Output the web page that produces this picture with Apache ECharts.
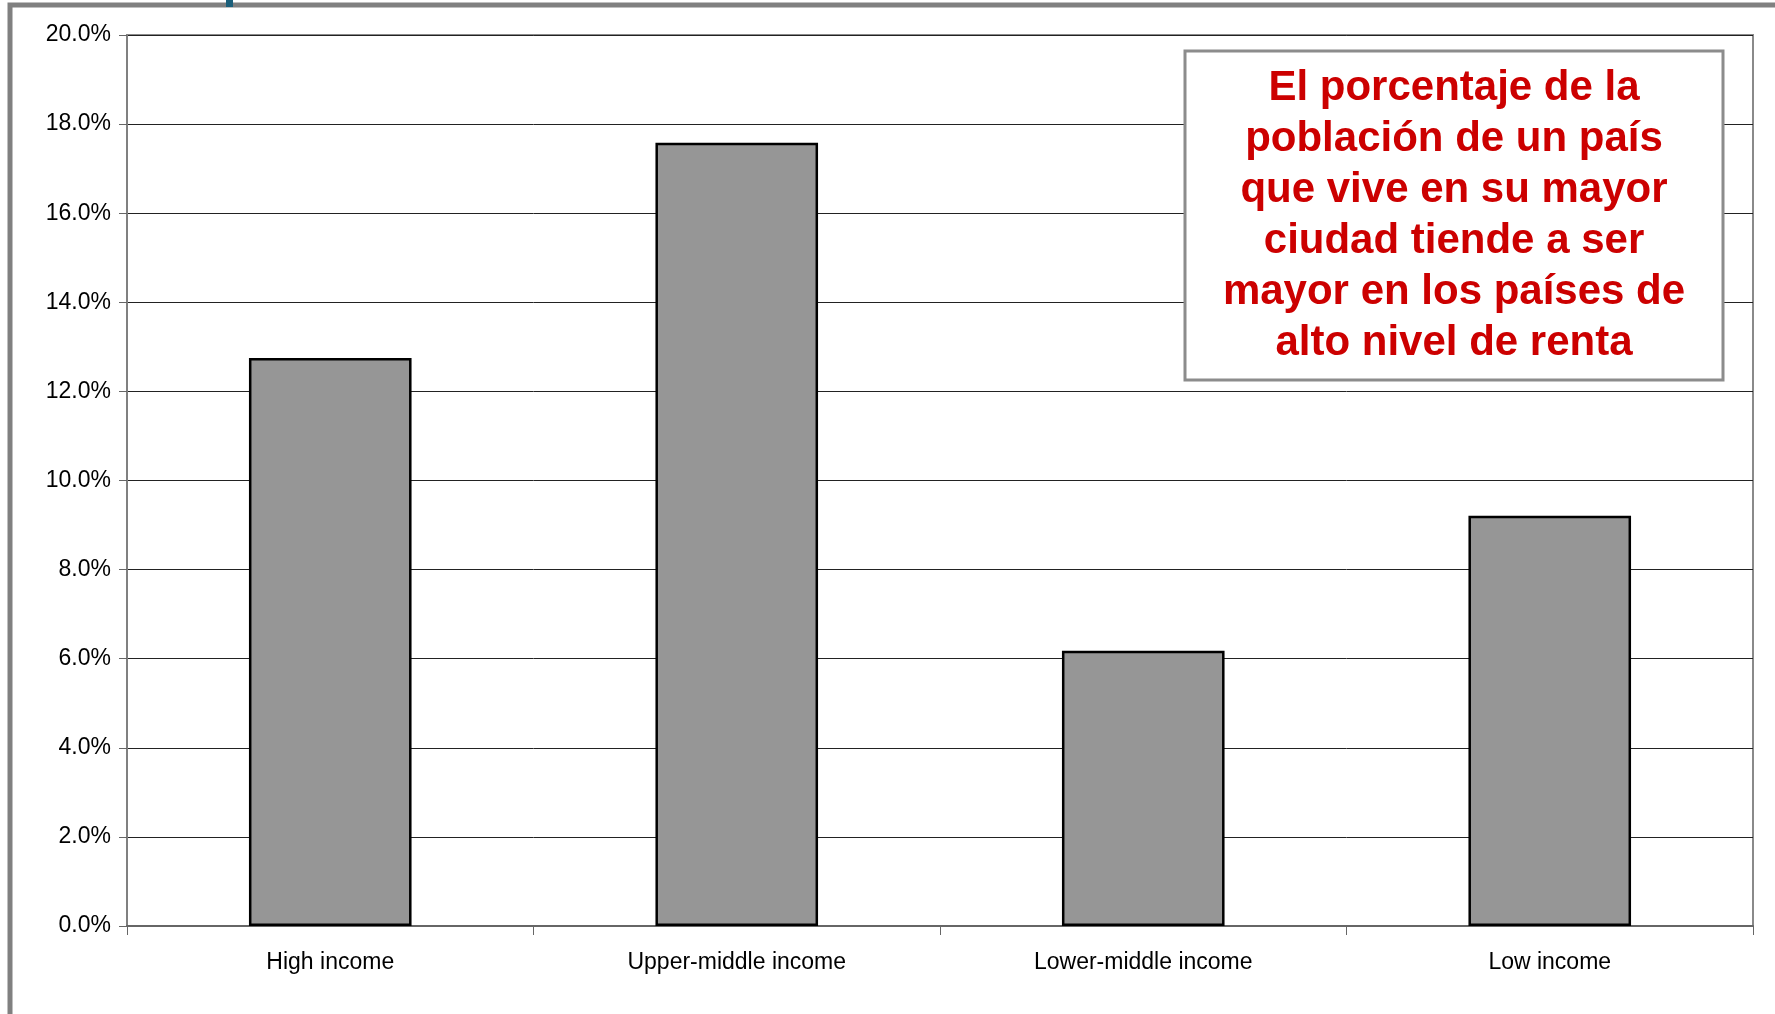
<!DOCTYPE html>
<html>
<head>
<meta charset="utf-8">
<script src="https://cdn.jsdelivr.net/npm/echarts@6/dist/echarts.min.js"></script>
<style>
  html, body { margin: 0; padding: 0; background: #fff; }
  #chart { width: 1775px; height: 1014px; }
</style>
</head>
<body>
<div id="chart"></div>
<script>
// 데이터
const categories = ["High income", "Upper-middle income", "Lower-middle income", "Low income"];
const shares = [12.75, 17.58, 6.18, 9.21]; // % de la población en la mayor ciudad
const yTicks = { min: 0, max: 20, interval: 2 };
const noteLines = [
  "El porcentaje de la",
  "población de un país",
  "que vive en su mayor",
  "ciudad tiende a ser",
  "mayor en los países de",
  "alto nivel de renta"
];

const chart = echarts.init(document.getElementById("chart"));

const option = {
  backgroundColor: "#fff",
  animation: false,
  textStyle: { fontFamily: "Liberation Sans, Arial, sans-serif" },
  grid: {
    left: 127,
    right: 22,
    top: 35,
    bottom: 88,
    show: true,
    borderColor: "#8a8a8a",
    borderWidth: 2
  },
  xAxis: {
    type: "category",
    data: categories,
    axisLine: { lineStyle: { color: "#666", width: 2 } },
    axisTick: { show: true, length: 9, lineStyle: { color: "#666", width: 1 } },
    axisLabel: { color: "#000", fontSize: 23, margin: 25 }
  },
  yAxis: {
    type: "value",
    min: yTicks.min,
    max: yTicks.max,
    interval: yTicks.interval,
    axisLine: { show: true, lineStyle: { color: "#808080", width: 2 } },
    axisTick: { show: true, length: 8, lineStyle: { color: "#666" } },
    axisLabel: {
      color: "#000",
      fontSize: 23,
      margin: 16,
      formatter: (v) => v.toFixed(1) + "%"
    },
    splitLine: { lineStyle: { color: "#222", width: 1 } }
  },
  series: [
    {
      type: "bar",
      data: shares,
      barWidth: "40%",
      itemStyle: { color: "#969696", borderColor: "#000", borderWidth: 2.5 }
    }
  ],
  graphic: [
    // marco exterior
    {
      type: "rect",
      shape: { x: 10, y: 5, width: 1900, height: 1200 },
      style: { fill: null, stroke: "#808080", lineWidth: 5 },
      silent: true
    },
    {
      type: "rect",
      shape: { x: 226, y: 0, width: 7, height: 7 },
      style: { fill: "#1b5f7a" },
      silent: true
    },
    // cuadro de texto
    {
      type: "rect",
      shape: { x: 1185, y: 51, width: 538, height: 329 },
      style: { fill: "#fff", stroke: "#8c8c8c", lineWidth: 3 },
      z: 10
    },
    {
      type: "text",
      x: 1454,
      y: 216,
      style: {
        text: noteLines.join("\n"),
        fill: "#cc0000",
        font: "bold 42px 'Liberation Sans', Arial, sans-serif",
        lineHeight: 51,
        align: "center",
        verticalAlign: "middle"
      },
      z: 11
    }
  ]
};

chart.setOption(option);
</script>
</body>
</html>
